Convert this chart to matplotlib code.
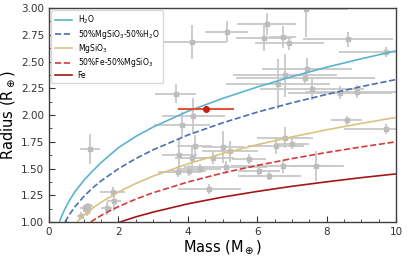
import matplotlib
matplotlib.use("Agg")
import matplotlib.pyplot as plt
from matplotlib.ticker import MultipleLocator

# planet sample (mass, radius, errors)
mass = [1.18, 0.91, 1.04, 1.10, 1.13, 1.66, 1.83, 1.88, 3.65, 4.16, 3.84, 4.13,
        5.12, 6.27, 6.20, 6.73, 6.93, 7.41, 8.61, 9.70, 7.43, 6.80, 7.39, 6.61,
        7.57, 8.39, 8.89, 4.20, 5.02, 5.22, 6.54, 6.80, 6.99, 3.76, 4.13, 4.74,
        5.76, 3.73, 4.02, 4.35, 5.09, 6.75, 7.69, 6.05, 6.35, 4.62, 8.58, 9.70]
mass_err = [0.28, 0.10, 0.15, 0.12, 0.15, 0.15, 0.35, 0.20, 0.60, 0.90, 0.80, 1.00,
            0.62, 0.85, 0.80, 0.40, 1.00, 1.20, 1.30, 1.35, 1.30, 1.50, 2.00, 1.50,
            1.50, 1.50, 1.50, 0.50, 0.60, 0.80, 0.80, 0.80, 0.50, 0.50, 0.50, 0.60,
            0.50, 0.60, 0.50, 0.60, 1.20, 1.50, 0.80, 0.60, 0.90, 0.90, 0.45, 1.20]
radius = [1.68, 1.06, 1.13, 1.10, 1.15, 1.13, 1.28, 1.20, 2.20, 1.99, 1.91, 2.68,
          2.78, 2.85, 2.72, 2.73, 2.67, 2.99, 2.71, 2.59, 2.43, 2.37, 2.35, 2.29,
          2.24, 2.21, 2.22, 1.71, 1.70, 1.66, 1.71, 1.79, 1.73, 1.63, 1.60, 1.60,
          1.59, 1.47, 1.48, 1.50, 1.51, 1.52, 1.52, 1.48, 1.43, 1.31, 1.95, 1.87]
radius_err = [0.14, 0.03, 0.04, 0.04, 0.03, 0.06, 0.05, 0.10, 0.09, 0.17, 0.12, 0.16,
              0.10, 0.10, 0.12, 0.10, 0.06, 0.26, 0.07, 0.05, 0.10, 0.20, 0.05, 0.23,
              0.10, 0.06, 0.06, 0.10, 0.15, 0.10, 0.07, 0.10, 0.05, 0.15, 0.12, 0.06,
              0.05, 0.05, 0.05, 0.04, 0.06, 0.06, 0.14, 0.06, 0.04, 0.05, 0.04, 0.05]

# highlighted planet
target_mass, target_mass_err = 4.52, 0.81
target_radius, target_radius_err = 2.06, 0.02

# composition curves
h2o_m = [0.30, 0.35, 0.40, 0.50, 0.60, 0.75, 1.0, 1.25, 1.5, 2.0, 2.5, 3.0,
         4.0, 5.0, 6.0, 7.0, 8.0, 9.0, 10.0]
h2o_r = [1.000, 1.043, 1.082, 1.149, 1.208, 1.284, 1.388, 1.475, 1.555, 1.695,
         1.800, 1.888, 2.035, 2.155, 2.262, 2.359, 2.447, 2.526, 2.600]
mix_m = [0.46, 0.50, 0.60, 0.75, 1.0, 1.25, 1.5, 2.0, 2.5, 3.0, 4.0, 5.0, 6.0,
         7.0, 8.0, 9.0, 10.0]
mix_r = [1.000, 1.023, 1.076, 1.144, 1.238, 1.317, 1.384, 1.498, 1.593, 1.675,
         1.813, 1.927, 2.027, 2.114, 2.193, 2.266, 2.332]
rock_m = [0.80, 0.90, 1.0, 1.25, 1.5, 2.0, 2.5, 3.0, 4.0, 5.0, 6.0, 7.0, 8.0,
          9.0, 10.0]
rock_r = [1.000, 1.032, 1.062, 1.128, 1.185, 1.281, 1.360, 1.429, 1.544, 1.640,
          1.723, 1.796, 1.862, 1.922, 1.978]
fe50_m = [1.20, 1.30, 1.50, 1.75, 2.0, 2.5, 3.0, 4.0, 5.0, 6.0, 7.0, 8.0, 9.0, 10.0]
fe50_r = [1.000, 1.021, 1.061, 1.105, 1.144, 1.214, 1.274, 1.374, 1.458, 1.529,
          1.593, 1.650, 1.702, 1.750]
fe_m = [2.05, 2.25, 2.5, 3.0, 4.0, 5.0, 6.0, 7.0, 8.0, 9.0, 10.0]
fe_r = [1.000, 1.022, 1.048, 1.093, 1.170, 1.233, 1.286, 1.334, 1.376, 1.415, 1.450]

fig = plt.figure(figsize=(4.07, 2.60), dpi=100)
ax = fig.add_axes([0.1204, 0.146, 0.8526, 0.823])

ax.errorbar(mass, radius, xerr=mass_err, yerr=radius_err, fmt="s", ms=3.5,
            color="#bdbdbd", ecolor="#c8c8c8", elinewidth=1.3, capsize=0, zorder=2)

ax.plot(h2o_m, h2o_r, color="#5ab4d0", lw=1.2, label="H$_2$O", zorder=3)
ax.plot(mix_m, mix_r, color="#4a6fb5", lw=1.2, ls="--",
        label="50%MgSiO$_3$-50%H$_2$O", zorder=3)
ax.plot(rock_m, rock_r, color="#d8c382", lw=1.2, label="MgSiO$_3$", zorder=3)
ax.plot(fe50_m, fe50_r, color="#d43a3a", lw=1.2, ls="--",
        label="50%Fe-50%MgSiO$_3$", zorder=3)
ax.plot(fe_m, fe_r, color="#a31616", lw=1.2, label="Fe", zorder=3)

ax.errorbar([target_mass], [target_radius], xerr=[target_mass_err],
            yerr=[target_radius_err], fmt="o", ms=4, color="#c8200e",
            ecolor="#e0533e", elinewidth=1.5, capsize=0, zorder=5)

ax.set_xlim(0, 10)
ax.set_ylim(1.0, 3.0)
ax.xaxis.set_major_locator(MultipleLocator(2))
ax.xaxis.set_minor_locator(MultipleLocator(0.5))
ax.yaxis.set_major_locator(MultipleLocator(0.25))
ax.yaxis.set_minor_locator(MultipleLocator(0.125))
ax.tick_params(which="both", direction="in", labelsize=7.5, colors="0.2")
ax.tick_params(which="major", length=4)
ax.tick_params(which="minor", length=2)
for s in ax.spines.values():
    s.set_color("0.25")
    s.set_linewidth(1.0)

ax.set_xlabel("Mass (M$_\\oplus$)", fontsize=10.5, labelpad=1)
ax.set_ylabel("Radius (R$_\\oplus$)", fontsize=10.5, labelpad=3)

ax.legend(loc="upper left", fontsize=5.5, frameon=True, framealpha=1,
          edgecolor="0.85", borderpad=0.45, labelspacing=0.18, handlelength=2.2,
          borderaxespad=0.3)

fig.savefig("out.png", dpi=100)
